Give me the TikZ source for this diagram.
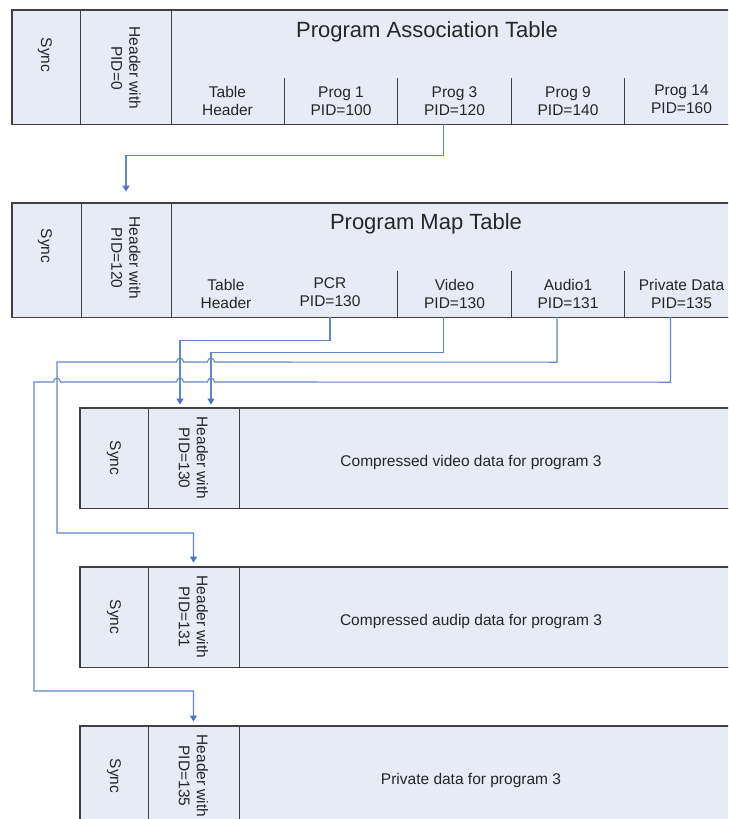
\documentclass[tikz,border=0pt]{standalone}
\usepackage{fontspec}
\setmainfont{Liberation Sans}
\usetikzlibrary{arrows.meta}

\definecolor{cellfill}{HTML}{E6EBF5}
\definecolor{rulegray}{HTML}{404040}
\definecolor{linkblue}{HTML}{5F86C9}
\definecolor{tipblue}{HTML}{4A74BE}

\tikzset{
  cellbox/.style={rectangle, draw=rulegray, fill=cellfill, line width=0.9pt, inner sep=0pt},
  field/.style={rectangle, inner sep=0pt, minimum width=113.5, minimum height=46,
                font=\fontsize{15.5}{18}\selectfont, align=center, text=black!85},
  vtxt/.style={inner sep=0pt, rotate=-90, align=center, text=black!85,
               font=\fontsize{15.5}{18}\selectfont},
  bodytxt/.style={inner sep=0pt, text=black!85, font=\fontsize{15.5}{18}\selectfont},
  titletxt/.style={inner sep=0pt, text=black!85, font=\fontsize{22}{26}\selectfont},
  sep/.style={draw=rulegray, line width=0.9pt},
  outline/.style={draw=rulegray, line width=1.4pt},
  link/.style={draw=linkblue, line width=1.1pt},
  tip/.style={-{Triangle[length=6pt,width=7pt,color=tipblue]}},
}

\begin{document}
\begin{tikzpicture}[x=1pt,y=-1pt]
\useasboundingbox (0,0) rectangle (728,819);
\clip (0,0) rectangle (728,819);

% ---------- Program Association Table packet ----------
\node[cellbox, minimum width=68,  minimum height=114] (pat-sync) at (46,67) {};
\node[cellbox, minimum width=91,  minimum height=114] (pat-hdr)  at (125.5,67) {};
\node[cellbox, minimum width=569, minimum height=114] (pat-body) at (455.5,67) {};
\draw[outline] (pat-sync.north west) rectangle (pat-body.south east);
\node[vtxt] (pat-sync-t) at (45,55) {Sync};
\node[vtxt] (pat-hdr-t) at (126,68) {Header with\\PID=0};
\node[titletxt] (pat-title) at (427,32) {Program Association Table};

\node[field] (pat-th)  at (227.5,101) {Table\\Header};
\node[field] (pat-p1)  at (341,101)   {Prog 1\\PID=100};
\node[field] (pat-p3)  at (454.5,101) {Prog 3\\PID=120};
\node[field] (pat-p9)  at (568,101)   {Prog 9\\PID=140};
\node[field] (pat-p14) at (681.5,101) {\raisebox{4pt}{\begin{tabular}{@{}c@{}}Prog 14\\PID=160\end{tabular}}};
\foreach \f in {pat-p1,pat-p3,pat-p9,pat-p14}
  \draw[sep] (\f.north west) -- (\f.south west);

% ---------- Program Map Table packet ----------
\node[cellbox, minimum width=69,  minimum height=114] (pmt-sync) at (46.5,260) {};
\node[cellbox, minimum width=90,  minimum height=114] (pmt-hdr)  at (126,260) {};
\node[cellbox, minimum width=569, minimum height=114] (pmt-body) at (455.5,260) {};
\draw[outline] (pmt-sync.north west) rectangle (pmt-body.south east);
\node[vtxt] (pmt-sync-t) at (45,246) {Sync};
\node[vtxt] (pmt-hdr-t) at (126,258) {Header with\\PID=120};
\node[titletxt] (pmt-title) at (426,224) {Program Map Table};

\node[field] (pmt-th)  at (226,294)   {Table\\Header};
\node[field] (pmt-pcr) at (341,294)   {\hspace*{-22pt}\begin{tabular}{@{}c@{}}PCR\\PID=130\end{tabular}};
\node[field] (pmt-vid) at (454.5,294) {Video\\PID=130};
\node[field] (pmt-aud) at (568,294)   {Audio1\\PID=131};
\node[field] (pmt-prv) at (681.5,294) {Private Data\\PID=135};
\foreach \f in {pmt-vid,pmt-aud,pmt-prv}
  \draw[sep] (\f.north west) -- (\f.south west);

% ---------- elementary stream packets ----------
\foreach \p/\cy/\pid/\body in {vid/458/130/Compressed video data for program 3,
                              aud/617/131/Compressed audip data for program 3,
                              prv/776/135/Private data for program 3}{
  \node[cellbox, minimum width=68,  minimum height=100] (\p-sync) at (114,\cy) {};
  \node[cellbox, minimum width=91,  minimum height=100] (\p-hdr)  at (193.5,\cy) {};
  \node[cellbox, minimum width=501, minimum height=100] (\p-body) at (489.5,\cy) {};
  \draw[outline] (\p-sync.north west) rectangle (\p-body.south east);
  \node[vtxt] (\p-sync-t) at (114,\cy) {Sync};
  \node[vtxt] (\p-hdr-t) at (193.5,\cy) {Header with\\PID=\pid};
  \node[bodytxt] (\p-body-t) at (471,\cy+4) {\body};
}

% ---------- connectors ----------
% PAT entry for program 3 points to the PMT packet
\draw[link,tip] ([xshift=-11pt]pat-p3.south) -- ++(0,31)
  -| ([yshift=11pt]pmt-hdr.north);

% PCR and video PIDs point to the video packet
\draw[link,tip] ([xshift=-11pt]pmt-pcr.south) -- ++(0,23)
  -| ([xshift=-13.5pt,yshift=3pt]vid-hdr.north);
\draw[link,tip] ([xshift=-11pt]pmt-vid.south) -- ++(0,35)
  -| ([xshift=17.5pt,yshift=3pt]vid-hdr.north);

% audio PID, hopping over the two video links
\draw[link,tip] ([xshift=-11pt]pmt-aud.south) -- ++(0,45)
  -- (214.5,362) .. controls (214.5,357) and (207.5,357) .. (207.5,362)
  -- (183.5,362) .. controls (183.5,357) and (176.5,357) .. (176.5,362)
  -- (57,362) -- (57,533)
  -| ([yshift=4pt]aud-hdr.north);

% private data PID, hopping over the video and audio links
\draw[link,tip] ([xshift=-11pt]pmt-prv.south) -- ++(0,65)
  -- (214.5,382) .. controls (214.5,377) and (207.5,377) .. (207.5,382)
  -- (183.5,382) .. controls (183.5,377) and (176.5,377) .. (176.5,382)
  -- (60.5,382)  .. controls (60.5,377)  and (53.5,377)  .. (53.5,382)
  -- (34,382) -- (34,691)
  -| ([yshift=4pt]prv-hdr.north);

\end{tikzpicture}
\end{document}
